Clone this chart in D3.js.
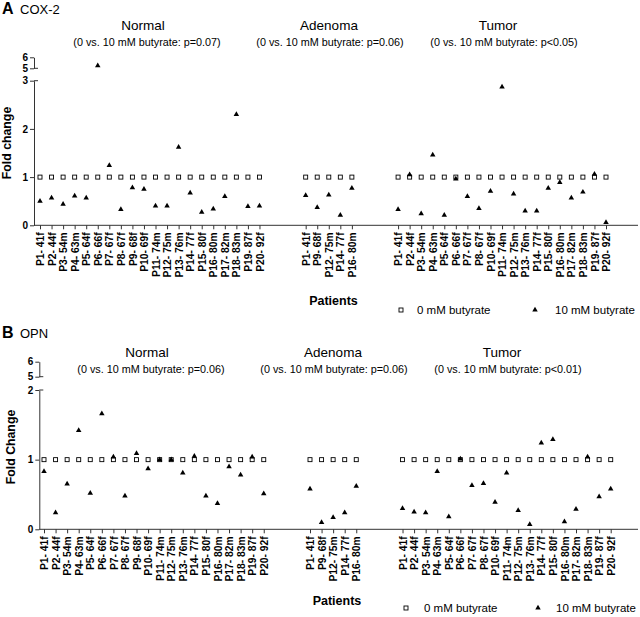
<!DOCTYPE html>
<html>
<head>
<meta charset="utf-8">
<script src="https://cdn.jsdelivr.net/npm/d3@7"></script>
<style>
  html, body { margin: 0; padding: 0; background: #fff; }
  svg { display: block; font-family: "Liberation Sans", Arial, Helvetica, sans-serif; }
</style>
</head>
<body>
<svg id="chart" width="640" height="617"></svg>
<script>
// ---------- data ----------
const groupNames = ["Normal", "Adenoma", "Tumor"];
const normalPatients = ["P1- 41f","P2- 44f","P3- 54m","P4- 63m","P5- 64f","P6- 66f","P7- 67f","P8- 67f","P9- 68f","P10- 69f",
  "P11- 74m","P12- 75m","P13- 76m","P14- 77f","P15- 80f","P16- 80m","P17- 82m","P18- 83m","P19- 87f","P20- 92f"];
const adenomaPatients = ["P1- 41f","P9- 68f","P12- 75m","P14- 77f","P16- 80m"];
const tumorPatients = ["P1- 41f","P2- 44f","P3- 54m","P4- 63m","P5- 64f","P6- 66f","P7- 67f","P8- 67f","P10- 69f",
  "P11- 74m","P12- 75m","P13- 76m","P14- 77f","P15- 80f","P16- 80m","P17- 82m","P18- 83m","P19- 87f","P20- 92f"];

const legendLabels = ["0 mM butyrate", "10 mM butyrate"];

// COX-2 (panel A)
const coxPValues = ["(0 vs. 10 mM butyrate: p=0.07)", "(0 vs. 10 mM butyrate: p=0.06)", "(0 vs. 10 mM butyrate: p<0.05)"];
const coxNormal0  = [1,1,1,1,1,1,1,1,1,1,1,1,1,1,1,1,1,1,1,1];
const coxNormal10 = [0.50,0.57,0.44,0.61,0.57,5.24,1.24,0.33,0.78,0.75,0.40,0.40,1.62,0.67,0.27,0.34,0.60,2.30,0.39,0.40];
const coxAdenoma0  = [1,1,1,1,1];
const coxAdenoma10 = [0.62,0.37,0.63,0.21,0.77];
const coxTumor0  = [1,1,1,1,1,1,1,1,1,1,1,1,1,1,1,1,1,1,1];
const coxTumor10 = [0.33,1.05,0.24,1.46,0.21,0.96,0.60,0.35,0.71,2.87,0.65,0.30,0.30,0.77,0.89,0.57,0.69,1.06,0.06];
const coxLowTicks = [0,1,2,3];
const coxHighTicks = [5,6];

// OPN (panel B)
const opnPValues = ["(0 vs. 10 mM butyrate: p=0.06)", "(0 vs. 10 mM butyrate: p=0.06)", "(0 vs. 10 mM butyrate: p<0.01)"];
const opnNormal0  = [1,1,1,1,1,1,1,1,1,1,1,1,1,1,1,1,1,1,1,1];
const opnNormal10 = [0.83,0.24,0.65,1.42,0.52,1.66,1.04,0.48,1.09,0.87,1.00,1.00,0.81,1.05,0.48,0.37,0.90,0.78,1.04,0.51];
const opnAdenoma0  = [1,1,1,1,1];
const opnAdenoma10 = [0.58,0.10,0.17,0.24,0.62];
const opnTumor0  = [1,1,1,1,1,1,1,1,1,1,1,1,1,1,1,1,1,1,1];
const opnTumor10 = [0.30,0.25,0.24,0.83,0.18,1.01,0.63,0.66,0.39,0.81,0.27,0.07,1.24,1.29,0.11,0.29,1.04,0.47,0.58];
const opnLowTicks = [0,1,2];
const opnHighTicks = [5,6];

// ---------- drawing ----------
const svg = d3.select("#chart");
svg.append("rect").attr("width", 640).attr("height", 617).attr("fill", "#fff");

const AXIS_COLOR = "#333";
const groupStarts = [0, 23, 31]; // slot offsets (gaps between groups)
const intFmt = d3.format("d");

function drawPanel(cfg) {
  const g = svg.append("g");
  const x = d3.scaleLinear().domain([0, 49]).range([cfg.x0, cfg.x1]);
  const lowMax = cfg.lowTicks[cfg.lowTicks.length - 1];
  const yLow = d3.scaleLinear().domain([0, lowMax]).range([cfg.y0, cfg.yLowTop]);
  const yHigh = d3.scaleLinear().domain([5, 6]).range([cfg.y5, cfg.y6]);
  const yv = v => v <= lowMax ? yLow(v) : yHigh(v);

  const groups = [
    {pats: normalPatients, v0: cfg.data[0][0], v10: cfg.data[0][1]},
    {pats: adenomaPatients, v0: cfg.data[1][0], v10: cfg.data[1][1]},
    {pats: tumorPatients, v0: cfg.data[2][0], v10: cfg.data[2][1]}
  ];
  const slots = [];
  groups.forEach((gr, gi) => gr.pats.forEach((p, i) => {
    slots.push({idx: groupStarts[gi] + i, label: p, v0: gr.v0[i], v10: gr.v10[i]});
  }));
  const labelMap = new Map(slots.map(s => [s.idx, s.label]));

  // panel label
  g.append("text").attr("x", cfg.labelX).attr("y", cfg.labelY)
    .attr("font-size", 16).attr("font-weight", "bold").text(cfg.letter);
  g.append("text").attr("x", cfg.labelX + 18).attr("y", cfg.labelY)
    .attr("font-size", 13).text(cfg.name);

  // group titles
  groupNames.forEach((n, i) => {
    g.append("text").attr("x", cfg.titleX[i]).attr("y", cfg.titleY)
      .attr("text-anchor", "middle").attr("font-size", 13.5).text(n);
    g.append("text").attr("x", cfg.subX[i]).attr("y", cfg.titleY + 16)
      .attr("text-anchor", "middle").attr("font-size", 10.8).text(cfg.pvals[i]);
  });

  // y axis lower segment
  const ayLow = g.append("g").attr("transform", `translate(${cfg.axisX},0)`)
    .call(d3.axisLeft(yLow).tickValues(cfg.lowTicks).tickFormat(intFmt).tickSize(4).tickSizeOuter(0).tickPadding(2));
  const ayHigh = g.append("g").attr("transform", `translate(${cfg.axisX},0)`)
    .call(d3.axisLeft(yHigh).tickValues(cfg.highTicks).tickFormat(intFmt).tickSize(4).tickSizeOuter(0).tickPadding(2));
  [ayLow, ayHigh].forEach(a => {
    a.selectAll("path, line").attr("stroke", AXIS_COLOR);
    a.selectAll("text").attr("font-size", 10).attr("font-weight", "bold").attr("fill", "#000")
      .attr("font-family", "'Liberation Sans', Arial, sans-serif");
  });
  // break caps
  g.append("line").attr("x1", cfg.axisX).attr("x2", cfg.axisX + 4)
    .attr("y1", yLow(lowMax)).attr("y2", yLow(lowMax)).attr("stroke", AXIS_COLOR);
  g.append("line").attr("x1", cfg.axisX).attr("x2", cfg.axisX + 4)
    .attr("y1", yHigh(5)).attr("y2", yHigh(5)).attr("stroke", AXIS_COLOR);

  // y title
  g.append("text").attr("transform", `translate(${cfg.yTitleX},${cfg.yTitleY}) rotate(-90)`)
    .attr("text-anchor", "middle").attr("font-size", 12.3).attr("font-weight", "bold").text(cfg.yTitle);

  // x axis
  const ax = g.append("g").attr("transform", `translate(0,${cfg.y0})`)
    .call(d3.axisBottom(x).tickValues(slots.map(s => s.idx)).tickFormat(i => labelMap.get(i)).tickSize(4).tickSizeOuter(0));
  ax.select(".domain").remove();
  ax.selectAll("line").attr("stroke", AXIS_COLOR);
  ax.selectAll("text").attr("transform", "rotate(-90)").attr("text-anchor", "end")
    .attr("x", -7).attr("y", 0).attr("dy", "0.35em")
    .attr("font-size", 10.3).attr("font-weight", "bold").attr("fill", "#000")
    .attr("font-family", "'Liberation Sans', Arial, sans-serif");
  g.append("line").attr("x1", cfg.axisX).attr("x2", 638).attr("y1", cfg.y0).attr("y2", cfg.y0)
    .attr("stroke", AXIS_COLOR);

  // points: 0 mM (open squares)
  g.append("g").selectAll("rect").data(slots).join("rect")
    .attr("x", d => x(d.idx) - 2).attr("y", d => yv(d.v0) - 2)
    .attr("width", 4).attr("height", 4)
    .attr("fill", "#fff").attr("stroke", "#000").attr("stroke-width", 0.9);
  // points: 10 mM (filled triangles)
  const tri = d3.symbol().type(d3.symbolTriangle).size(13);
  g.append("g").selectAll("path").data(slots).join("path")
    .attr("transform", d => `translate(${x(d.idx)},${yv(d.v10)})`)
    .attr("d", tri).attr("fill", "#000");

  // x title
  g.append("text").attr("x", cfg.patX).attr("y", cfg.patY).attr("text-anchor", "middle")
    .attr("font-size", 12.5).attr("font-weight", "bold").text("Patients");

  // legend
  const lg = g.append("g");
  lg.append("rect").attr("x", cfg.leg[0] - 2).attr("y", cfg.legY - 2).attr("width", 4).attr("height", 4)
    .attr("fill", "#fff").attr("stroke", "#000").attr("stroke-width", 0.9);
  lg.append("text").attr("x", cfg.leg[1]).attr("y", cfg.legY + 4).attr("font-size", 11.5).text(legendLabels[0]);
  lg.append("path").attr("transform", `translate(${cfg.leg[2]},${cfg.legY})`).attr("d", tri).attr("fill", "#000");
  lg.append("text").attr("x", cfg.leg[3]).attr("y", cfg.legY + 4).attr("font-size", 11.5).text(legendLabels[1]);
}

drawPanel({
  letter: "A", name: "COX-2", labelX: 2, labelY: 14,
  titleX: [143, 329, 498], subX: [147, 330, 504], titleY: 29.5,
  x0: 40, x1: 606, axisX: 34, y0: 225.3, yLowTop: 80.7, y5: 68.3, y6: 57.3,
  lowTicks: coxLowTicks, highTicks: coxHighTicks,
  yTitle: "Fold change", yTitleX: 11, yTitleY: 143,
  pvals: coxPValues,
  data: [[coxNormal0, coxNormal10], [coxAdenoma0, coxAdenoma10], [coxTumor0, coxTumor10]],
  patX: 333.5, patY: 305, leg: [401, 417, 535, 555], legY: 310
});

drawPanel({
  letter: "B", name: "OPN", labelX: 2, labelY: 338,
  titleX: [147, 333, 502], subX: [151, 334, 508], titleY: 357,
  x0: 44, x1: 610.7, axisX: 39.3, y0: 529.3, yLowTop: 390, y5: 376.7, y6: 361.7,
  lowTicks: opnLowTicks, highTicks: opnHighTicks,
  yTitle: "Fold Change", yTitleX: 15, yTitleY: 447,
  pvals: opnPValues,
  data: [[opnNormal0, opnNormal10], [opnAdenoma0, opnAdenoma10], [opnTumor0, opnTumor10]],
  patX: 337, patY: 605, leg: [406, 424, 538, 556], legY: 608
});
</script>
</body>
</html>
